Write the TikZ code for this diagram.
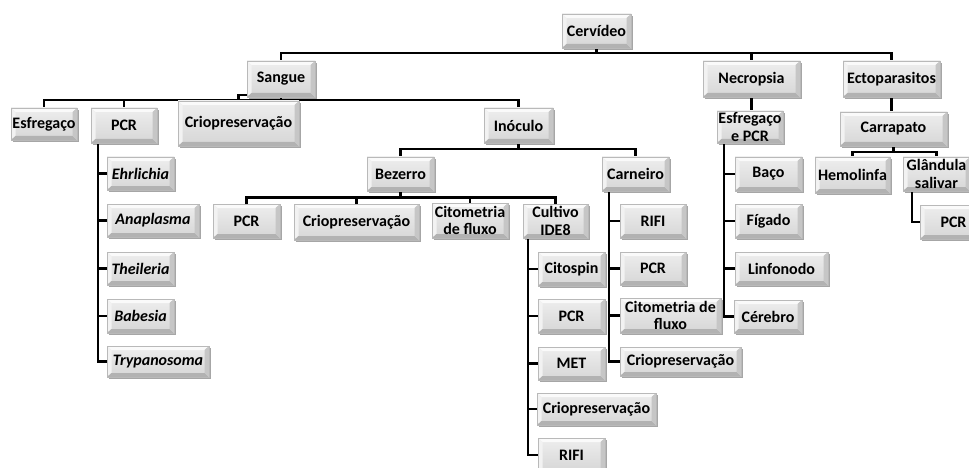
\documentclass[tikz,border=0pt]{standalone}
\usepackage{fontspec}
\setmainfont{Carlito}
\usetikzlibrary{shadows,backgrounds,calc}
\definecolor{facetop}{RGB}{238,238,238}
\definecolor{facebot}{RGB}{214,214,214}
\definecolor{bevlight}{RGB}{250,250,250}
\definecolor{bevleft}{RGB}{242,242,242}
\definecolor{bevbot}{RGB}{178,178,178}
\definecolor{bevright}{RGB}{198,198,198}
\tikzset{
  bx/.style={draw=gray!55, line width=0.4pt, top color=facetop, bottom color=facebot,
    drop shadow={shadow xshift=1.6pt, shadow yshift=-1.8pt, fill=black, opacity=0.35},
    inner sep=1pt, align=center, text=black,
    font=\fontsize{16}{17.5}\selectfont\bfseries,
    path picture={
      \path (path picture bounding box.south west) coordinate (ppsw)
            (path picture bounding box.north east) coordinate (ppne)
            (path picture bounding box.north west) coordinate (ppnw)
            (path picture bounding box.south east) coordinate (ppse);
      \fill[bevlight] (ppnw) -- (ppne) -- ([shift={(-4.5pt,-4pt)}]ppne) -- ([shift={(4.5pt,-4pt)}]ppnw) -- cycle;
      \fill[bevleft] (ppnw) -- ([shift={(4.5pt,-4pt)}]ppnw) -- ([shift={(4.5pt,4pt)}]ppsw) -- (ppsw) -- cycle;
      \fill[bevbot] (ppsw) -- ([shift={(4.5pt,4pt)}]ppsw) -- ([shift={(-4.5pt,4pt)}]ppse) -- (ppse) -- cycle;
      \fill[bevright] (ppse) -- ([shift={(-4.5pt,4pt)}]ppse) -- ([shift={(-4.5pt,-4pt)}]ppne) -- (ppne) -- cycle;
    }},
  ln/.style={line width=2.6pt, black, line join=miter}
}
\newcommand\mybox[6]{\node[bx,minimum width={#4-#2},minimum height={#5-#3}] (#1) at ({(#2+#4)/2},{(#3+#5)/2}) {#6};}
\begin{document}
\begin{tikzpicture}[x=1pt,y=-1pt]
\useasboundingbox (0,0) rectangle (969,468);
% level 0/1
\mybox{cerv}{562}{14}{631}{48}{Cervídeo}
\mybox{sang}{247}{61}{315}{97}{Sangue}
\mybox{necr}{703}{61}{800}{97}{Necropsia}
\mybox{ecto}{843}{61}{940}{97}{Ectoparasitos}
% Sangue children
\mybox{esf}{11}{108}{77}{140}{Esfregaço}
\mybox{pcrs}{91}{108}{157}{143}{PCR}
\mybox{crs}{178}{101}{299}{146}{Criopreservação}
\mybox{inoc}{484}{108}{553}{143}{Inóculo}
% PCR children
\mybox{ehr}{107}{157}{174}{190}{\itshape Ehrlichia}
\mybox{ana}{107}{204}{199}{237}{\itshape Anaplasma}
\mybox{the}{107}{252}{174}{285}{\itshape Theileria}
\mybox{bab}{107}{299}{174}{333}{\itshape Babesia}
\mybox{try}{107}{346}{209}{377}{\itshape Trypanosoma}
% Inoculo children
\mybox{bez}{367}{157}{434}{191}{Bezerro}
\mybox{carn}{602}{157}{669}{191}{Carneiro}
% Bezerro children
\mybox{pcrb}{213}{204}{280}{238}{PCR}
\mybox{crb}{294}{204}{419}{240}{Criopreservação}
\mybox{citb}{432}{203}{508}{238}{Citometria\\de fluxo}
\mybox{cult}{523}{204}{588}{238}{Cultivo\\IDE8}
% Cultivo children
\mybox{cito}{538}{252}{605}{286}{Citospin}
\mybox{pcrc}{538}{299}{605}{333}{PCR}
\mybox{met}{538}{347}{605}{380}{MET}
\mybox{crc}{537}{393}{656}{425}{Criopreservação}
\mybox{rific}{538}{438}{605}{472}{RIFI}
% Carneiro children
\mybox{rifi}{620}{204}{686}{238}{RIFI}
\mybox{pcrn}{620}{252}{686}{285}{PCR}
\mybox{citn}{620}{298}{721}{333}{Citometria de\\fluxo}
\mybox{crn}{620}{347}{741}{376}{Criopreservação}
% Necropsia
\mybox{esfn}{717}{111}{783}{143}{Esfregaço\\e PCR}
\mybox{baco}{735}{157}{802}{191}{Baço}
\mybox{figa}{735}{204}{802}{238}{Fígado}
\mybox{linf}{735}{252}{828}{285}{Linfonodo}
\mybox{cere}{734}{300}{802}{333}{Cérebro}
% Ectoparasitos
\mybox{carr}{840}{112}{947}{146}{Carrapato}
\mybox{hemo}{815}{157}{890}{193}{Hemolinfa}
\mybox{glan}{903}{157}{970}{191}{Glândula\\salivar}
\mybox{pcrg}{920}{205}{987}{239}{PCR}
% connectors
\begin{pgfonlayer}{background}
\fill[white] (0,0) rectangle (969,468);
\draw[ln] (cerv.south) -- ++(0,5) coordinate (cb);
\draw[ln] (cb) -| (sang.north);
\draw[ln] (cb) -| (necr.north);
\draw[ln] (cb) -| (ecto.north);
\draw[ln] (sang.south) -- ++(0,3) coordinate (sb);
\draw[ln] (sb) -| (esf.north);
\draw[ln] (sb) -| (pcrs.north);
\draw[ln] (sb) -| (inoc.north);
\draw[ln] ([yshift=2pt]sang.south) -| (crs.north);
\foreach \c in {ehr,ana,the,bab,try}
  \draw[ln] ([xshift=7pt]pcrs.south west) |- (\c.west);
\draw[ln] (inoc.south) -- ++(0,6) coordinate (ib);
\draw[ln] (ib) -| (bez.north);
\draw[ln] (ib) -| (carn.north);
\draw[ln] (bez.south) -- ++(0,6) coordinate (bb);
\foreach \c in {pcrb,crb,citb,cult}
  \draw[ln] (bb) -| (\c.north);
\foreach \c in {cito,pcrc,met,crc,rific}
  \draw[ln] ([xshift=5pt]cult.south west) |- (\c.west);
\foreach \c in {rifi,pcrn,citn,crn}
  \draw[ln] ([xshift=7pt]carn.south west) |- (\c.west);
\draw[ln] (necr.south) -- (necr.south |- esfn.north);
\foreach \c in {baco,figa,linf,cere}
  \draw[ln] ([xshift=7pt]esfn.south west) |- (\c.west);
\draw[ln] (ecto.south) -- (ecto.south |- carr.north);
\draw[ln] (carr.south) -- ++(0,6) coordinate (kb);
\draw[ln] (kb) -| (hemo.north);
\draw[ln] (kb) -| (glan.north);
\draw[ln] ([xshift=9pt]glan.south west) |- (pcrg.west);
\end{pgfonlayer}
\end{tikzpicture}
\end{document}
